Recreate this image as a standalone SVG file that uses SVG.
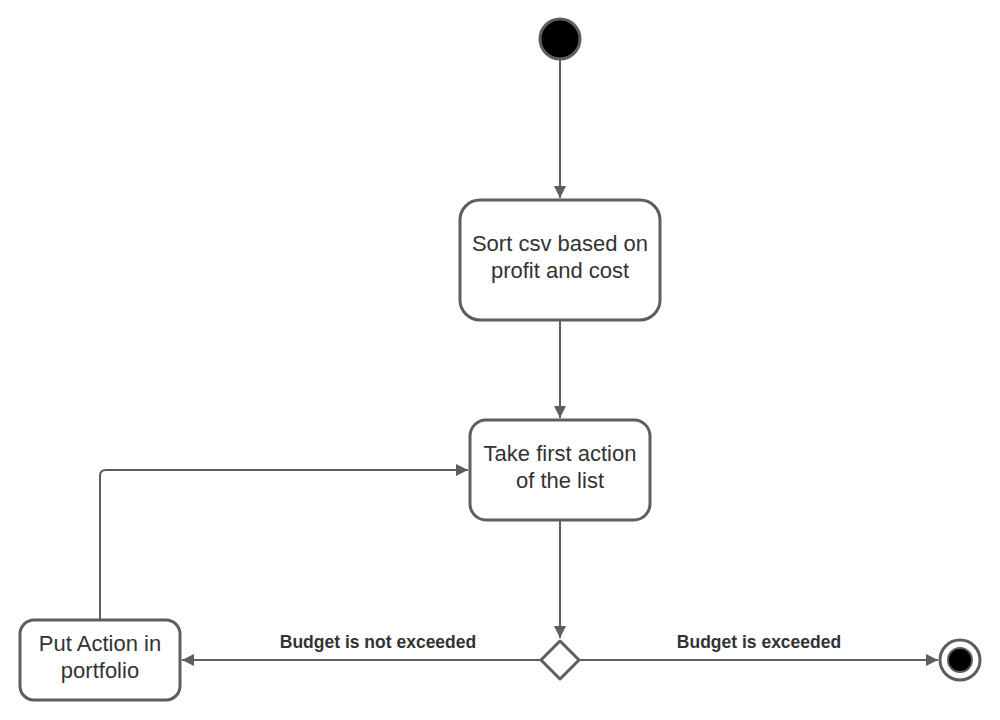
<svg xmlns="http://www.w3.org/2000/svg" width="1000" height="720" viewBox="0 0 1000 720">
<style>
.node{fill:#fff;stroke:#5e5e5e;stroke-width:3}
.edge{fill:none;stroke:#5e5e5e;stroke-width:2}
.t{font-family:"Liberation Sans",Arial,sans-serif;font-size:22px;fill:#333;text-anchor:middle}
.lbl{font-family:"Liberation Sans",Arial,sans-serif;font-size:17.5px;font-weight:bold;fill:#333;text-anchor:middle}
</style>
<defs>
<marker id="arr" viewBox="0 0 12 12" refX="12" refY="6" markerWidth="12" markerHeight="12" markerUnits="userSpaceOnUse" orient="auto">
<path d="M0,0 L12,6 L0,12 Z" fill="#5e5e5e"/>
</marker>
</defs>
<rect width="1000" height="720" fill="#fff"/>
<g id="connectors">
<path class="edge" d="M560,60 L560,198" marker-end="url(#arr)"/>
<path class="edge" d="M560,321 L560,418" marker-end="url(#arr)"/>
<path class="edge" d="M560,521 L560,638" marker-end="url(#arr)"/>
<path class="edge" d="M540,660 L182,660" marker-end="url(#arr)"/>
<path class="edge" d="M580,660 L938,660" marker-end="url(#arr)"/>
<path class="edge" d="M100,619 L100,476 Q100,470 106,470 L468,470" marker-end="url(#arr)"/>
<text class="lbl" x="378" y="648">Budget is not exceeded</text>
<text class="lbl" x="759" y="648">Budget is exceeded</text>
</g>
<g id="start">
<circle cx="560" cy="39" r="20" fill="#000" stroke="#5e5e5e" stroke-width="3"/>
</g>
<g id="sort">
<rect class="node" x="460" y="200" width="200" height="120" rx="20"/>
<text class="t" x="560" y="251">Sort csv based on</text>
<text class="t" x="560" y="278">profit and cost</text>
</g>
<g id="take">
<rect class="node" x="470" y="420" width="180" height="100" rx="16"/>
<text class="t" x="560" y="461">Take first action</text>
<text class="t" x="560" y="488">of the list</text>
</g>
<g id="decision">
<path class="node" d="M560,641 L579,660 L560,679 L541,660 Z" stroke-linejoin="round"/>
</g>
<g id="put">
<rect class="node" x="20" y="620" width="160" height="80" rx="14"/>
<text class="t" x="100" y="651">Put Action in</text>
<text class="t" x="100" y="678">portfolio</text>
</g>
<g id="end">
<circle cx="960" cy="660" r="20" fill="#fff" stroke="#5e5e5e" stroke-width="3"/>
<circle cx="960" cy="660" r="12" fill="#000" stroke="#5e5e5e" stroke-width="2"/>
</g>
</svg>
